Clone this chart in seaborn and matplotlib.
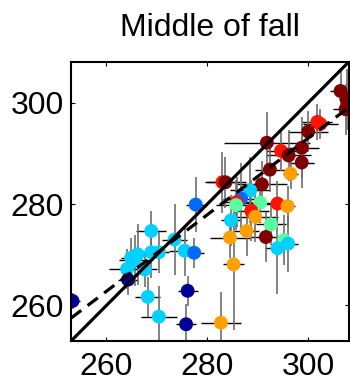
import numpy as np
import pandas as pd
import seaborn as sns
import matplotlib
matplotlib.use("Agg")
import matplotlib.pyplot as plt

# ---- data ----
obs_x = [306.4, 307.6, 307.4, 301.8, 302.4, 300.0, 291.8, 294.6, 296.1, 298.7,
         298.7, 292.4, 296.5, 283.0, 283.6, 290.8, 288.5, 286.7, 285.8, 285.7,
         290.5, 293.9, 295.9, 288.7, 289.5, 284.7, 292.6, 287.8, 284.5, 291.6,
         295.2, 296.0, 293.9, 285.2, 282.7, 277.7, 268.9, 273.5, 275.5, 277.4,
         268.9, 270.4, 266.2, 264.9, 265.6, 264.1, 267.6, 264.3, 253.3, 268.2,
         270.4, 276.1, 275.8]
mod_y = [302.3, 300.7, 298.7, 296.2, 295.8, 294.3, 292.1, 290.5, 289.6, 291.1,
         288.2, 286.8, 286.0, 284.3, 284.3, 283.9, 282.7, 281.1, 280.4, 279.8,
         280.3, 280.1, 279.6, 278.7, 277.5, 276.8, 276.0, 274.7, 273.4, 273.5,
         272.9, 272.2, 271.3, 268.1, 256.6, 279.9, 274.7, 273.0, 270.8, 270.4,
         270.5, 270.5, 270.1, 269.4, 268.9, 267.2, 267.1, 265.1, 260.9, 261.7,
         257.8, 262.9, 256.3]
x_err = [2.0, 1.5, 2.5, 3.0, 3.5, 4.0, 8.5, 3.0, 4.5, 3.5,
         2.5, 3.0, 1.5, 3.0, 4.0, 5.0, 4.0, 3.5, 3.0, 4.0,
         3.5, 3.0, 1.5, 3.5, 4.5, 2.0, 3.0, 2.5, 4.0, 3.0,
         1.5, 2.0, 2.5, 2.0, 4.0, 2.0, 3.0, 2.5, 3.0, 2.0,
         2.5, 2.0, 2.5, 2.0, 3.0, 3.5, 2.5, 2.0, 1.5, 2.5,
         3.5, 2.0, 2.0]
y_err = [4.0, 6.0, 5.0, 3.5, 3.0, 4.0, 6.0, 4.0, 5.0, 6.0,
         5.0, 4.5, 3.0, 6.0, 5.0, 4.5, 6.5, 7.0, 5.0, 5.0,
         4.0, 4.5, 4.0, 6.0, 5.0, 5.0, 4.0, 5.0, 4.0, 5.0,
         5.0, 5.5, 9.0, 13.0, 6.0, 5.5, 4.0, 7.0, 5.0, 3.0,
         5.0, 4.0, 6.0, 4.0, 5.0, 4.0, 3.5, 3.0, 1.5, 4.0,
         6.0, 3.0, 4.0]
season_val = [1.0, 1.0, 1.0, 0.89, 0.89, 1.0, 1.0, 0.89, 1.0, 1.0,
              1.0, 1.0, 0.74, 0.89, 1.0, 1.0, 0.33, 0.23, 0.89, 0.46,
              0.46, 0.89, 0.74, 0.89, 0.74, 0.33, 0.46, 0.74, 0.74, 1.0,
              0.46, 0.33, 0.33, 0.74, 0.74, 0.23, 0.33, 0.33, 0.33, 0.23,
              0.33, 0.33, 0.33, 0.33, 0.33, 0.33, 0.33, 0.02, 0.02, 0.33,
              0.33, 0.02, 0.02]
fit_slope = 0.755
fit_intercept = 66.5
axis_range = [253, 308]
ticks = [260, 280, 300]
title = "Middle of fall"

df = pd.DataFrame({"obs": obs_x, "mod": mod_y, "xerr": x_err,
                   "yerr": y_err, "c": season_val})

sns.set_style("ticks")
plt.rcParams["font.family"] = ["Liberation Sans", "DejaVu Sans"]
plt.rcParams["text.color"] = "black"
plt.rcParams["xtick.color"] = "black"
plt.rcParams["ytick.color"] = "black"

fig = plt.figure(figsize=(3.5, 3.81), dpi=100)
ax = fig.add_axes([0.203, 0.105, 0.793, 0.732])

ax.errorbar(df["obs"], df["mod"], xerr=df["xerr"], fmt="none",
            ecolor="black", elinewidth=1.0, zorder=1)
ax.errorbar(df["obs"], df["mod"], yerr=df["yerr"], fmt="none",
            ecolor="#6e6e6e", elinewidth=1.2, zorder=1)

sns.scatterplot(data=df, x="obs", y="mod", hue="c",
                palette=matplotlib.colormaps["jet"],
                hue_norm=(0, 1), s=100, edgecolor="none", legend=False,
                ax=ax, zorder=3)

xs = np.array(axis_range, dtype=float)
ax.plot(xs, xs, color="black", lw=2.3, zorder=4)
ax.plot(xs, fit_intercept + fit_slope * xs, color="black", lw=2.3,
        ls=(0, (4, 2.5)), zorder=4)

ax.set_xlim(axis_range)
ax.set_ylim(axis_range)
ax.set_xticks(ticks)
ax.set_yticks(ticks)
ax.set_xlabel("")
ax.set_ylabel("")
ax.tick_params(direction="in", length=3, width=0.8, labelsize=23,
               labelcolor="black", top=True, right=True)
ax.tick_params(axis="x", pad=8)
ax.tick_params(axis="y", pad=5)
for s in ax.spines.values():
    s.set_linewidth(1.5)
    s.set_color("black")
    s.set_zorder(5)
ax.set_title(title, fontsize=23, pad=19, color="black")

fig.savefig("out.png", dpi=100)
